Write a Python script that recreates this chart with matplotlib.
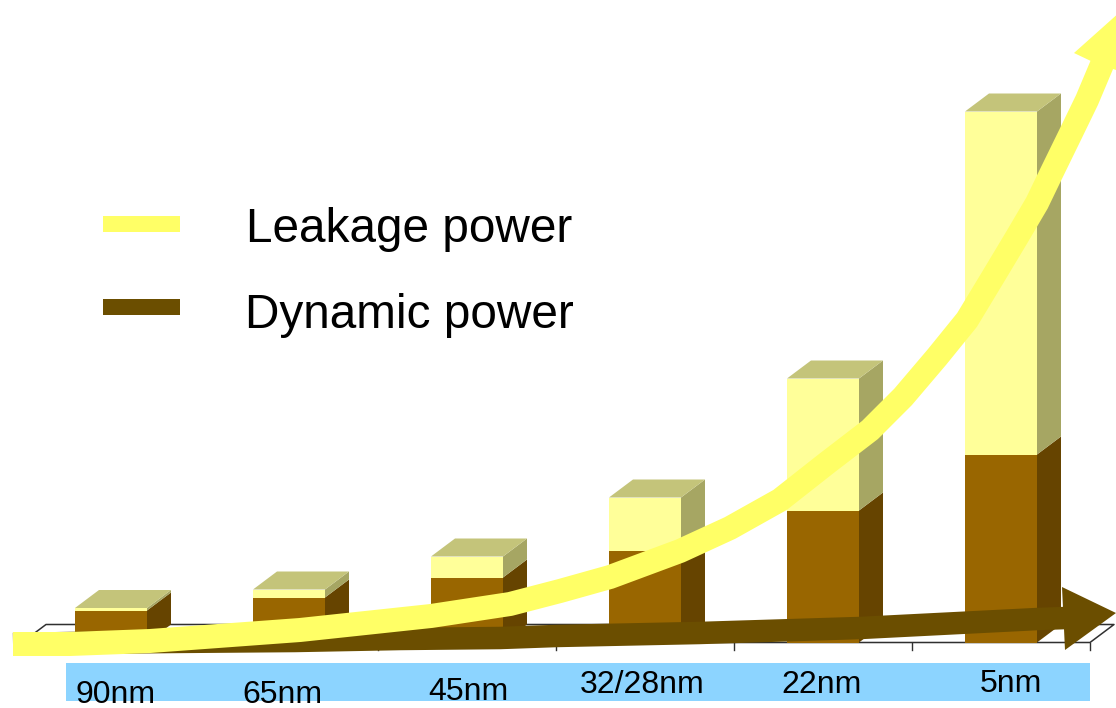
import numpy as np
import matplotlib
matplotlib.use('Agg')
import matplotlib.pyplot as plt

plt.rcParams['font.family'] = ['Liberation Sans', 'DejaVu Sans']

nodes = ['90nm', '65nm', '45nm', '32/28nm', '22nm', '5nm']
dynamic = [3.2, 4.5, 6.5, 9.2, 13.2, 18.8]
leakage = [0.25, 0.8, 2.1, 5.3, 13.2, 34.3]

# trend arrows in pixels
leak_x = [13, 70, 150, 300, 431, 510, 560, 610, 680, 730, 780, 827, 870, 903, 937, 967, 993, 1017, 1037, 1050, 1071, 1087, 1103]
leak_y = [644, 644, 641, 630, 616, 604, 591, 577, 551, 528, 500, 463, 430, 397, 357, 320, 277, 237, 203, 176, 133, 100, 62]
dyn_x = [13, 70, 170, 295, 400, 500, 556, 699, 860, 1038, 1066]
dyn_y = [644, 643, 642, 641, 639, 638, 636, 633, 628, 619, 618]
leak_head_x = [1074, 1130, 1116, 1093]
leak_head_y = [53, 3, 70, 62]
dyn_head_x = [1062, 1116, 1065]
dyn_head_y = [587, 613, 650]

label_x = [116, 282, 468, 642, 822, 1011]
label_y = [703, 703, 700, 693, 693, 692]

W, H = 1116, 708
fig = plt.figure(figsize=(W / 100, H / 100), dpi=100)
ax = fig.add_axes([0, 0, 1, 1])
ax.set_xlim(-111 / 178, (W - 111) / 178)
ax.set_ylim(-(H - 642.5) / 10, 642.5 / 10)
ax.axis('off')

x = np.arange(len(nodes))
bw = 72 / 178
dx = 24 / 178
dy = 1.8
dynamic = np.array(dynamic)
leakage = np.array(leakage)
total = dynamic + leakage

# floor of the 3d chart
floor = '#303030'
ax.plot([-0.5, -0.5 + dx, 5.5 + dx, 5.5, -0.5], [0, dy, dy, 0, 0], color=floor, lw=1.1, zorder=1)
for t in np.arange(-0.5, 6):
    ax.plot([t, t], [0, -0.75], color=floor, lw=1, zorder=1)

# bars
ax.bar(x, dynamic, bw, color='#996600', zorder=3)
ax.bar(x, leakage, bw, bottom=dynamic, color='#FFFF99', zorder=3)
for i in x:
    r = i + bw / 2
    l = i - bw / 2
    ax.fill([r, r + dx, r + dx, r], [0, dy, dynamic[i] + dy, dynamic[i]], color='#664400', lw=0, zorder=2)
    ax.fill([r, r + dx, r + dx, r], [dynamic[i], dynamic[i] + dy, total[i] + dy, total[i]], color='#A6A663', lw=0, zorder=2)
    ax.fill([l, l + dx, r + dx, r], [total[i], total[i] + dy, total[i] + dy, total[i]], color='#C4C47A', lw=0, zorder=2)

# overlay in pixel coordinates for arrows, band and legend
ov = fig.add_axes([0, 0, 1, 1])
ov.set_xlim(0, W)
ov.set_ylim(H, 0)
ov.axis('off')
ov.patch.set_alpha(0)

px = 0.72
ov.plot(dyn_x, dyn_y, color='#6B4E00', lw=22.5 * px, solid_capstyle='butt', solid_joinstyle='round', zorder=2)
ov.fill(dyn_head_x, dyn_head_y, color='#6B4E00', lw=0, zorder=2)
ov.plot(leak_x, leak_y, color='#FFFF66', lw=24 * px, solid_capstyle='butt', solid_joinstyle='round', zorder=3)
ov.fill(leak_head_x, leak_head_y, color='#FFFF66', lw=0, zorder=3)

ov.fill([66, 1090, 1090, 66], [663, 663, 701, 701], color='#8CD4FF', lw=0, zorder=1)
for name, lx, ly in zip(nodes, label_x, label_y):
    ov.text(lx, ly, name, fontsize=23, ha='center', va='baseline', color='black', zorder=4)

ov.fill([103, 180, 180, 103], [216, 216, 232, 232], color='#FFFF66', lw=0)
ov.fill([103, 180, 180, 103], [299, 299, 315, 315], color='#6B4E00', lw=0)
ov.text(246, 242, 'Leakage power', fontsize=34.4, va='baseline', color='black')
ov.text(245, 328, 'Dynamic power', fontsize=34.4, va='baseline', color='black')

fig.savefig('out.png', dpi=100)
